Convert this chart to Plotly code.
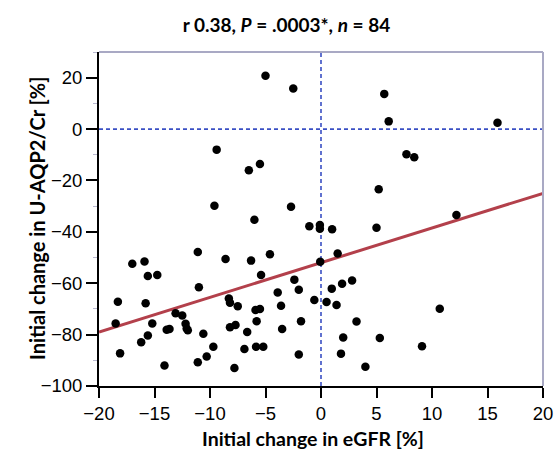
import plotly.graph_objects as go

# Data
egfr_change = [
    -5.0, -2.5, -9.4, -6.5, -5.5, -9.6, -2.7, -6.0, -1.05, 5.7,
    6.1, 15.9, 7.7, 8.4, 5.2, 12.2, -0.1, -0.1, 1.0, 5.0,
    -11.1, -8.6, -6.3, -4.6, -5.4, -2.4, -2.0, -3.9, -17.0, -15.9,
    -15.6, -14.75, -18.3, -15.8, -11.0, -18.5, -18.1, -15.2, -15.6, -16.2,
    -13.9, -13.65, -14.1, -13.1, -12.5, -12.2, -12.1, -12.0, -8.3, -8.2,
    -7.5, -10.6, -9.7, -10.3, -11.1, -8.2, -7.7, -7.8, -6.9, -6.65,
    -5.9, -5.5, -5.8, -5.85, -5.2, -3.6, -3.5, -1.8, -2.0, 1.5,
    -0.07, 0.97, 1.9, 2.8, -0.6, 0.5, 1.4, 10.7, 3.2, 2.0,
    5.3, 9.1, 1.8, 4.0,
]
aqp2_change = [
    20.8, 15.8, -8.0, -16.0, -13.6, -29.8, -30.2, -35.3, -37.8, 13.7,
    3.0, 2.5, -9.8, -11.0, -23.4, -33.4, -37.3, -38.8, -39.0, -38.4,
    -47.8, -50.6, -51.2, -48.7, -56.8, -58.6, -62.5, -63.6, -52.4, -51.5,
    -57.2, -56.8, -67.2, -67.8, -61.6, -75.7, -87.3, -75.7, -80.3, -83.0,
    -78.1, -77.8, -92.0, -71.7, -72.6, -75.8, -77.6, -78.3, -65.9, -67.6,
    -69.0, -79.7, -84.7, -88.5, -90.8, -77.1, -76.3, -93.0, -85.6, -79.0,
    -70.4, -70.0, -74.8, -84.7, -84.7, -68.8, -77.8, -74.8, -87.7, -48.4,
    -51.6, -62.1, -60.2, -58.9, -66.5, -67.3, -68.5, -69.9, -74.9, -81.1,
    -81.3, -84.5, -87.4, -92.5,
]
fit_x = [-20, 20]
fit_y = [-79, -25]

x_ticks = [-20, -15, -10, -5, 0, 5, 10, 15, 20]
y_ticks = [-100, -80, -60, -40, -20, 0, 20]
y_minor = [-90, -70, -50, -30, -10, 10, 30]

title_text = "<b>r 0.38, <i>P</i> = .0003*, <i>n</i> = 84</b>"
x_title = "<b>Initial change in eGFR [%]</b>"
y_title = "<b>Initial change in U-AQP2/Cr [%]</b>"

fig = go.Figure()

fig.add_trace(go.Scatter(
    x=fit_x, y=fit_y, mode="lines",
    line=dict(color="#b3404b", width=3), hoverinfo="skip", showlegend=False,
))
fig.add_trace(go.Scatter(
    x=egfr_change, y=aqp2_change, mode="markers",
    marker=dict(color="black", size=8.5), showlegend=False,
))

# reference lines at zero
fig.add_shape(type="line", xref="x", yref="y", x0=-20, x1=20, y0=0, y1=0,
              line=dict(color="#3a4fc4", width=1.6, dash="4px,3px"), layer="below")
fig.add_shape(type="line", xref="x", yref="y", x0=0, x1=0, y0=-100, y1=30,
              line=dict(color="#3a4fc4", width=1.6, dash="4px,3px"), layer="below")
# light top/right frame
fig.add_shape(type="line", xref="paper", yref="paper", x0=0, x1=1, y0=1, y1=1,
              line=dict(color="#a9a9c4", width=2))
fig.add_shape(type="line", xref="paper", yref="paper", x0=1, x1=1, y0=0, y1=1,
              line=dict(color="#a9a9c4", width=2))

tick_font = dict(family="Liberation Sans, Arial, sans-serif", size=18.5, color="black")
title_font = dict(family="Lato, Open Sans, sans-serif", size=19.5, color="black")

# axis titles as annotations for exact placement
fig.add_annotation(text=x_title, xref="paper", yref="paper", x=0.5, y=0,
                   xshift=-8, yshift=-52, xanchor="center", yanchor="middle",
                   showarrow=False, font=title_font)
fig.add_annotation(text=y_title, xref="paper", yref="paper", x=0, y=0.5,
                   xshift=-62, yshift=0, xanchor="center", yanchor="middle",
                   textangle=-90, showarrow=False, font=dict(title_font, size=20))

fig.update_layout(
    width=554, height=453,
    margin=dict(l=99, r=11, t=52, b=67),
    paper_bgcolor="white", plot_bgcolor="white",
    title=dict(text=title_text, x=0.517, xanchor="center", y=0.945, yanchor="middle",
               font=dict(family="Lato, Open Sans, sans-serif", size=19, color="black")),
    xaxis=dict(
        range=[-20, 20], tickvals=x_ticks, ticks="outside", ticklen=10, tickwidth=2,
        tickcolor="black", showline=True, linecolor="black", linewidth=2,
        showgrid=False, zeroline=False, tickfont=tick_font, ticklabeloverflow="allow",
        automargin=False,
    ),
    yaxis=dict(
        range=[-100, 30], tickvals=y_ticks, ticks="outside", ticklen=11, tickwidth=2,
        tickcolor="black", showline=True, linecolor="black", linewidth=2,
        showgrid=False, zeroline=False, tickfont=tick_font, ticklabeloverflow="allow",
        automargin=False,
        minor=dict(tickvals=y_minor, ticks="outside",
                   ticklen=4, tickwidth=1, tickcolor="#b8b8d0"),
    ),
)

fig.write_html("out.html")
